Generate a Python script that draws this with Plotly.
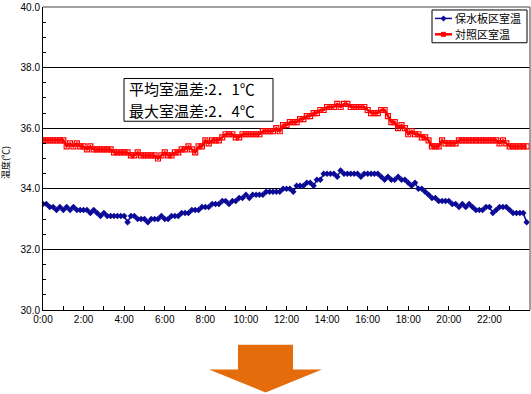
import plotly.graph_objects as go

# 10-minute readings from 0:00 to 23:50 (hours)
hours = [i / 6 for i in range(144)]

hosui_temp = [  # 保水板区室温
    33.5, 33.5, 33.4, 33.4, 33.3, 33.4, 33.3, 33.4, 33.3, 33.4,
    33.3, 33.3, 33.3, 33.3, 33.2, 33.3, 33.2, 33.1, 33.2, 33.1,
    33.1, 33.1, 33.1, 33.1, 33.1, 32.9, 33.1, 33.1, 33.0, 33.0,
    33.0, 32.9, 33.0, 33.0, 33.0, 33.1, 33.0, 33.0, 33.1, 33.1,
    33.1, 33.2, 33.2, 33.2, 33.3, 33.3, 33.3, 33.4, 33.4, 33.4,
    33.5, 33.5, 33.5, 33.6, 33.6, 33.5, 33.6, 33.6, 33.7, 33.7,
    33.8, 33.7, 33.8, 33.8, 33.8, 33.8, 33.9, 33.9, 33.9, 33.9,
    33.9, 34.0, 34.0, 34.0, 33.9, 34.1, 34.1, 34.1, 34.2, 34.2,
    34.1, 34.3, 34.3, 34.5, 34.5, 34.5, 34.5, 34.4, 34.6, 34.5,
    34.5, 34.5, 34.5, 34.5, 34.4, 34.5, 34.5, 34.5, 34.5, 34.5,
    34.4, 34.3, 34.4, 34.3, 34.3, 34.4, 34.3, 34.3, 34.2, 34.1,
    34.2, 34.0, 34.0, 33.9, 33.8, 33.7, 33.7, 33.6, 33.6, 33.6,
    33.6, 33.5, 33.5, 33.4, 33.5, 33.4, 33.5, 33.4, 33.3, 33.3,
    33.3, 33.4, 33.4, 33.2, 33.3, 33.4, 33.4, 33.4, 33.3, 33.2,
    33.2, 33.2, 33.2, 32.9,
]

taisho_temp = [  # 対照区室温
    35.6, 35.6, 35.6, 35.6, 35.6, 35.6, 35.6, 35.4, 35.5, 35.4,
    35.5, 35.4, 35.4, 35.3, 35.4, 35.3, 35.3, 35.3, 35.3, 35.3,
    35.3, 35.2, 35.2, 35.2, 35.2, 35.2, 35.1, 35.1, 35.2, 35.1,
    35.1, 35.1, 35.1, 35.1, 35.0, 35.1, 35.2, 35.1, 35.1, 35.2,
    35.2, 35.3, 35.3, 35.4, 35.3, 35.2, 35.4, 35.4, 35.6, 35.5,
    35.6, 35.6, 35.6, 35.7, 35.8, 35.8, 35.8, 35.7, 35.7, 35.8,
    35.8, 35.8, 35.8, 35.8, 35.8, 35.9, 35.9, 35.9, 35.9, 36.0,
    35.9, 36.1, 36.1, 36.2, 36.2, 36.2, 36.3, 36.3, 36.4, 36.4,
    36.5, 36.5, 36.6, 36.6, 36.7, 36.7, 36.7, 36.8, 36.7, 36.8,
    36.8, 36.7, 36.7, 36.7, 36.7, 36.7, 36.6, 36.5, 36.5, 36.5,
    36.6, 36.6, 36.4, 36.2, 36.2, 36.0, 36.1, 36.0, 35.8, 35.9,
    35.8, 35.8, 35.7, 35.7, 35.6, 35.4, 35.4, 35.4, 35.6, 35.5,
    35.5, 35.5, 35.5, 35.6, 35.6, 35.6, 35.6, 35.6, 35.6, 35.6,
    35.6, 35.6, 35.6, 35.6, 35.6, 35.5, 35.6, 35.5, 35.4, 35.4,
    35.4, 35.4, 35.4, 35.4,
]

x_tick_vals = [0, 2, 4, 6, 8, 10, 12, 14, 16, 18, 20, 22]
x_tick_text = ["0:00", "2:00", "4:00", "6:00", "8:00", "10:00", "12:00",
               "14:00", "16:00", "18:00", "20:00", "22:00"]
y_tick_vals = [30, 32, 34, 36, 38, 40]
y_tick_text = ["30.0", "32.0", "34.0", "36.0", "38.0", "40.0"]

series_names = ["保水板区室温", "対照区室温"]
series_colors = ["#0a0a96", "#ff0000"]
note_lines = ["平均室温差:2．1℃", "最大室温差:2．4℃"]

W, H = 531, 394
L, R, T, B = 43, 1, 5, 84
pw, ph = W - L - R, H - T - B


def px(x):
    return (x - L) / pw


def py(y):
    return (H - B - y) / ph


fig = go.Figure()
fig.add_trace(go.Scatter(
    x=hours, y=hosui_temp, name=series_names[0], mode="lines+markers",
    line=dict(color=series_colors[0], width=1.5),
    marker=dict(symbol="diamond", size=5, color=series_colors[0]),
    showlegend=False,
))
fig.add_trace(go.Scatter(
    x=hours, y=taisho_temp, name=series_names[1], mode="lines+markers",
    line=dict(color=series_colors[1], width=2.5),
    marker=dict(symbol="square-open", size=5, color=series_colors[1], line=dict(width=1.2)),
    showlegend=False,
))

font_main = "Noto Sans CJK JP"

shapes = [
    # gray top and right plot border
    dict(type="line", xref="paper", yref="paper", x0=0, x1=1, y0=1, y1=1,
         line=dict(color="#808080", width=1.5), layer="above"),
    dict(type="line", xref="paper", yref="paper", x0=1, x1=1, y0=0, y1=1,
         line=dict(color="#808080", width=1.5), layer="above"),
    # orange down arrow
    dict(type="path", xref="paper", yref="paper",
         path=(f"M {px(238)},{py(345)} L {px(293)},{py(345)} L {px(293)},{py(370)} "
               f"L {px(322)},{py(370)} L {px(265.5)},{py(393)} L {px(209)},{py(370)} "
               f"L {px(238)},{py(370)} Z"),
         fillcolor="#e46c0a", line=dict(width=0)),
    # note box
    dict(type="rect", xref="paper", yref="paper", x0=px(124), x1=px(273), y0=py(77), y1=py(120),
         line=dict(color="black", width=1), fillcolor="white", layer="above"),
    # legend box
    dict(type="rect", xref="paper", yref="paper", x0=px(432), x1=px(527), y0=py(8), y1=py(41),
         line=dict(color="black", width=1), fillcolor="white", layer="above"),
]

annotations = [
    dict(xref="paper", yref="paper", x=px(6), y=py(162), xanchor="center", yanchor="middle",
         text="温度(℃)", textangle=-90, showarrow=False,
         font=dict(size=9, family=font_main)),
]

# note text, one annotation per line
for line_text, cy in zip(note_lines, [87.5, 109.5]):
    annotations.append(dict(xref="paper", yref="paper", x=px(127), y=py(cy),
                            xanchor="left", yanchor="middle", text=line_text, showarrow=False,
                            font=dict(size=15, family=font_main)))

# legend entries (sample line, marker, label)
legend_rows = [16.5, 32.5]
for k, (name, color, ry) in enumerate(zip(series_names, series_colors, legend_rows)):
    shapes.append(dict(type="line", xref="paper", yref="paper",
                       x0=px(435), x1=px(452), y0=py(ry), y1=py(ry),
                       line=dict(color=color, width=1.5 if k == 0 else 2.5), layer="above"))
    if k == 0:
        shapes.append(dict(type="path", xref="paper", yref="paper",
                           path=(f"M {px(443.5)},{py(ry-3)} L {px(446.5)},{py(ry)} "
                                 f"L {px(443.5)},{py(ry+3)} L {px(440.5)},{py(ry)} Z"),
                           fillcolor=color, line=dict(width=0), layer="above"))
    else:
        shapes.append(dict(type="rect", xref="paper", yref="paper",
                           x0=px(441.5), x1=px(445.5), y0=py(ry-2), y1=py(ry+2),
                           fillcolor=color, line=dict(color=color, width=1), layer="above"))
    annotations.append(dict(xref="paper", yref="paper", x=px(453), y=py(ry),
                            xanchor="left", yanchor="middle", text=name, showarrow=False,
                            font=dict(size=11, family=font_main)))

fig.update_layout(
    width=W, height=H,
    margin=dict(l=L, r=R, t=T, b=B),
    paper_bgcolor="white", plot_bgcolor="white",
    font=dict(family=font_main, color="black", size=10),
    showlegend=False,
    xaxis=dict(
        range=[0, 24], tickvals=x_tick_vals, ticktext=x_tick_text,
        showgrid=False, zeroline=False,
        showline=True, linecolor="black", linewidth=1,
        ticks="inside", ticklen=4, tickcolor="black",
        minor=dict(dtick=1, tick0=0, ticks="inside", ticklen=4, tickcolor="black", showgrid=False),
        tickfont=dict(size=10, family="Liberation Sans"),
        ticklabeloverflow="allow",
    ),
    yaxis=dict(
        range=[30, 40], tickvals=y_tick_vals, ticktext=y_tick_text,
        showgrid=True, gridcolor="black", gridwidth=1, zeroline=False,
        showline=True, linecolor="black", linewidth=1,
        ticks="inside", ticklen=4, tickcolor="black",
        minor=dict(dtick=0.5, tick0=30, ticks="inside", ticklen=3, tickcolor="black", showgrid=False),
        tickfont=dict(size=10, family="Liberation Sans"),
        ticklabeloverflow="allow",
    ),
    shapes=shapes,
    annotations=annotations,
)

fig.write_html("out.html", config={"displayModeBar": False},
               post_script="document.body.style.margin='0px';")
